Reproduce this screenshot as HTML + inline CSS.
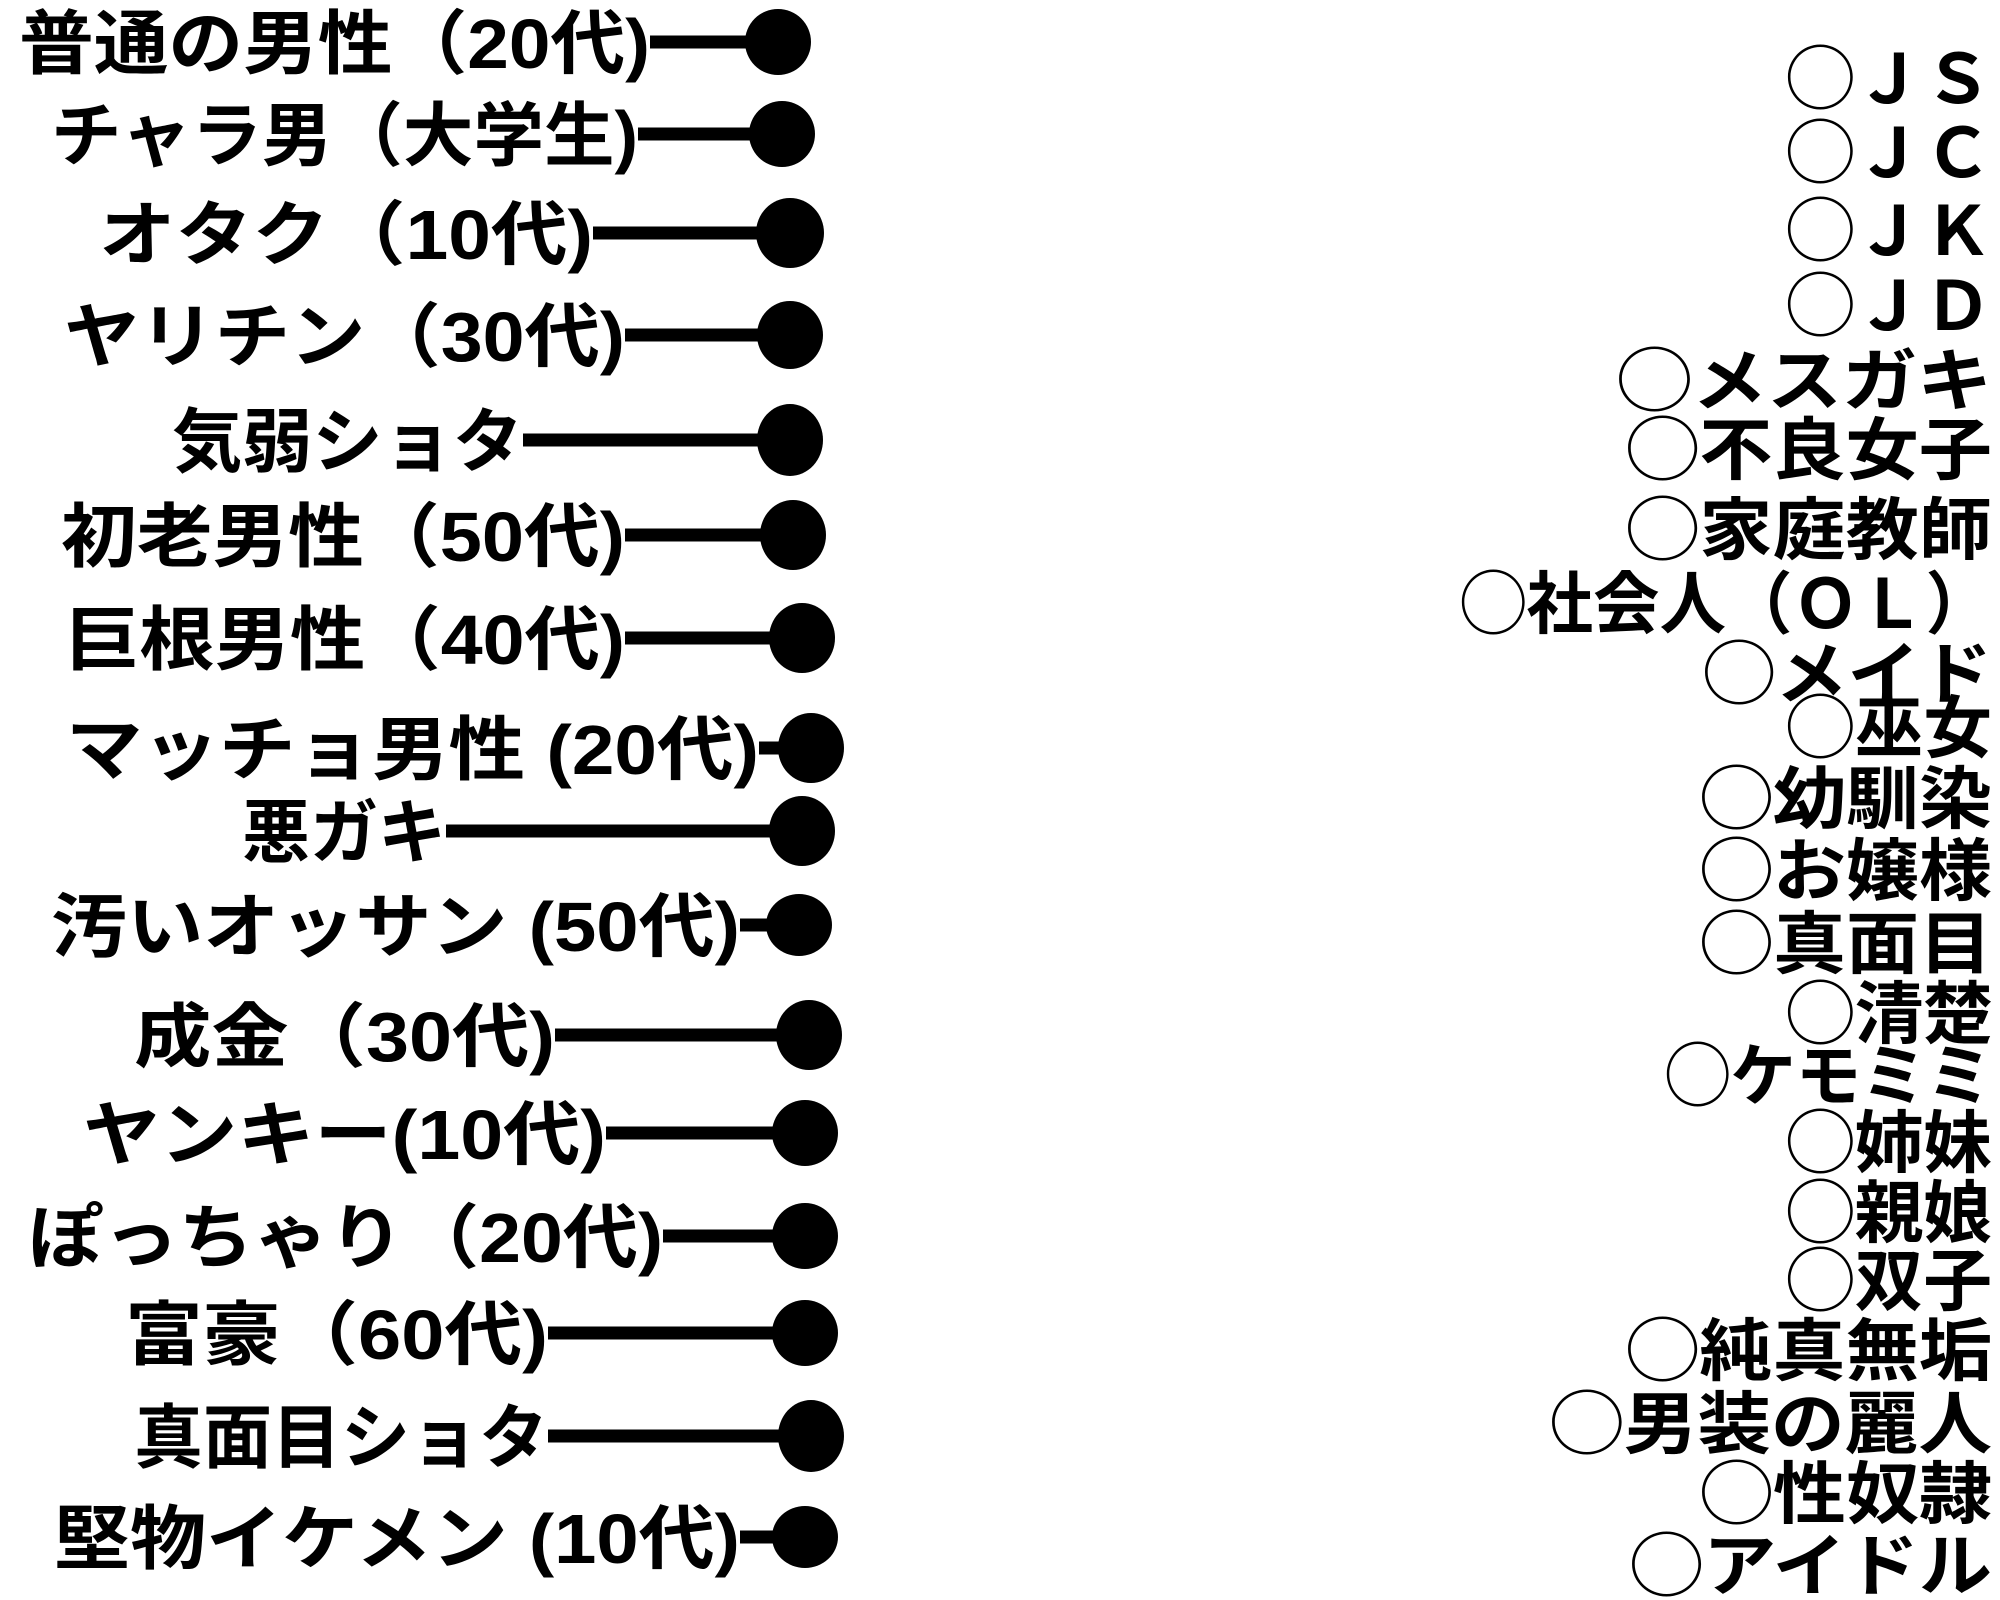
<!DOCTYPE html>
<html><head><meta charset="utf-8"><style>
html,body{margin:0;padding:0;background:#fff}
svg{display:block}
text{font-family:"Liberation Sans","Noto Sans CJK JP",sans-serif;font-weight:bold;font-size:70px;fill:#000}
.r{font-size:68px}
</style></head><body>
<svg width="2000" height="1600" viewBox="0 0 2000 1600" xmlns="http://www.w3.org/2000/svg">
<g stroke="#000" stroke-width="13">
<line x1="650" y1="42" x2="778" y2="42"/>
<line x1="638" y1="134" x2="782" y2="134"/>
<line x1="593" y1="233" x2="790" y2="233"/>
<line x1="625" y1="335" x2="790" y2="335"/>
<line x1="523" y1="440" x2="790" y2="440"/>
<line x1="625" y1="535" x2="793" y2="535"/>
<line x1="625" y1="638" x2="802" y2="638"/>
<line x1="759" y1="748" x2="811" y2="748"/>
<line x1="446" y1="831" x2="802" y2="831"/>
<line x1="740" y1="925" x2="799" y2="925"/>
<line x1="555" y1="1035" x2="809" y2="1035"/>
<line x1="606" y1="1133" x2="805" y2="1133"/>
<line x1="663" y1="1236" x2="805" y2="1236"/>
<line x1="548" y1="1333" x2="805" y2="1333"/>
<line x1="548" y1="1436" x2="811" y2="1436"/>
<line x1="740" y1="1537" x2="805" y2="1537"/>
</g>
<g fill="#000">
<ellipse cx="778" cy="42" rx="33" ry="33"/>
<ellipse cx="782" cy="134" rx="33" ry="33"/>
<ellipse cx="790" cy="233" rx="34" ry="35"/>
<ellipse cx="790" cy="335" rx="33" ry="34"/>
<ellipse cx="790" cy="440" rx="33" ry="36"/>
<ellipse cx="793" cy="535" rx="33" ry="35"/>
<ellipse cx="802" cy="638" rx="33" ry="35"/>
<ellipse cx="811" cy="748" rx="33" ry="35"/>
<ellipse cx="802" cy="831" rx="33" ry="35"/>
<ellipse cx="799" cy="925" rx="33" ry="31"/>
<ellipse cx="809" cy="1035" rx="33" ry="35"/>
<ellipse cx="805" cy="1133" rx="33" ry="33"/>
<ellipse cx="805" cy="1236" rx="33" ry="33"/>
<ellipse cx="805" cy="1333" rx="33" ry="33"/>
<ellipse cx="811" cy="1436" rx="33" ry="36"/>
<ellipse cx="805" cy="1537" rx="33" ry="31"/>
</g>
<text x="19" y="68" textLength="631" lengthAdjust="spacingAndGlyphs">普通の男性（20代)</text>
<text x="51" y="160" textLength="587" lengthAdjust="spacingAndGlyphs">チャラ男（大学生)</text>
<text x="99" y="259" textLength="494" lengthAdjust="spacingAndGlyphs">オタク（10代)</text>
<text x="64" y="361" textLength="561" lengthAdjust="spacingAndGlyphs">ヤリチン（30代)</text>
<text x="172" y="466" textLength="351" lengthAdjust="spacingAndGlyphs">気弱ショタ</text>
<text x="61" y="561" textLength="564" lengthAdjust="spacingAndGlyphs">初老男性（50代)</text>
<text x="64" y="664" textLength="561" lengthAdjust="spacingAndGlyphs">巨根男性（40代)</text>
<text x="66" y="774" textLength="693" lengthAdjust="spacingAndGlyphs">マッチョ男性 (20代)</text>
<text x="242" y="857" textLength="204" lengthAdjust="spacingAndGlyphs">悪ガキ</text>
<text x="51" y="951" textLength="689" lengthAdjust="spacingAndGlyphs">汚いオッサン (50代)</text>
<text x="134" y="1061" textLength="421" lengthAdjust="spacingAndGlyphs">成金（30代)</text>
<text x="83" y="1159" textLength="523" lengthAdjust="spacingAndGlyphs">ヤンキー(10代)</text>
<text x="28" y="1262" textLength="635" lengthAdjust="spacingAndGlyphs">ぽっちゃり（20代)</text>
<text x="125" y="1359" textLength="423" lengthAdjust="spacingAndGlyphs">富豪（60代)</text>
<text x="134" y="1462" textLength="414" lengthAdjust="spacingAndGlyphs">真面目ショタ</text>
<text x="54" y="1563" textLength="686" lengthAdjust="spacingAndGlyphs">堅物イケメン (10代)</text>

<text class="r" x="1786" y="103" textLength="206" lengthAdjust="spacingAndGlyphs">◯ＪＳ</text>
<text class="r" x="1786" y="177" textLength="206" lengthAdjust="spacingAndGlyphs">◯ＪＣ</text>
<text class="r" x="1786" y="255" textLength="206" lengthAdjust="spacingAndGlyphs">◯ＪＫ</text>
<text class="r" x="1786" y="330" textLength="206" lengthAdjust="spacingAndGlyphs">◯ＪＤ</text>
<text class="r" x="1617" y="405" textLength="375" lengthAdjust="spacingAndGlyphs">◯メスガキ</text>
<text class="r" x="1626" y="474" textLength="366" lengthAdjust="spacingAndGlyphs">◯不良女子</text>
<text class="r" x="1626" y="554" textLength="366" lengthAdjust="spacingAndGlyphs">◯家庭教師</text>
<text class="r" x="1460" y="628" textLength="532" lengthAdjust="spacingAndGlyphs">◯社会人（ＯＬ）</text>
<text class="r" x="1703" y="698" textLength="289" lengthAdjust="spacingAndGlyphs">◯メイド</text>
<text class="r" x="1786" y="752" textLength="206" lengthAdjust="spacingAndGlyphs">◯巫女</text>
<text class="r" x="1700" y="823" textLength="292" lengthAdjust="spacingAndGlyphs">◯幼馴染</text>
<text class="r" x="1700" y="895" textLength="292" lengthAdjust="spacingAndGlyphs">◯お嬢様</text>
<text class="r" x="1700" y="968" textLength="292" lengthAdjust="spacingAndGlyphs">◯真面目</text>
<text class="r" x="1786" y="1038" textLength="206" lengthAdjust="spacingAndGlyphs">◯清楚</text>
<text class="r" x="1665" y="1100" textLength="327" lengthAdjust="spacingAndGlyphs">◯ケモミミ</text>
<text class="r" x="1786" y="1167" textLength="206" lengthAdjust="spacingAndGlyphs">◯姉妹</text>
<text class="r" x="1786" y="1237" textLength="206" lengthAdjust="spacingAndGlyphs">◯親娘</text>
<text class="r" x="1786" y="1305" textLength="206" lengthAdjust="spacingAndGlyphs">◯双子</text>
<text class="r" x="1626" y="1375" textLength="366" lengthAdjust="spacingAndGlyphs">◯純真無垢</text>
<text class="r" x="1550" y="1448" textLength="442" lengthAdjust="spacingAndGlyphs">◯男装の麗人</text>
<text class="r" x="1700" y="1518" textLength="292" lengthAdjust="spacingAndGlyphs">◯性奴隷</text>
<text class="r" x="1630" y="1590" textLength="362" lengthAdjust="spacingAndGlyphs">◯アイドル</text>
</svg>
</body></html>
